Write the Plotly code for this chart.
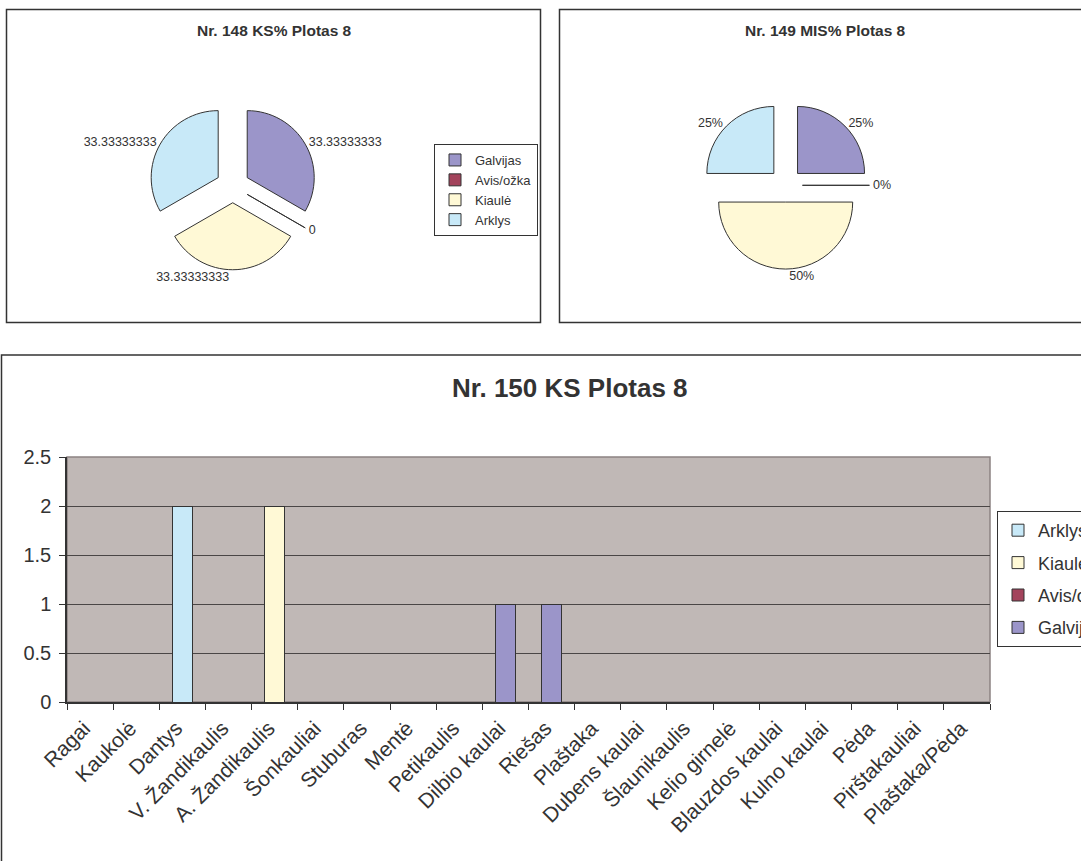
import plotly.graph_objects as go

W, H = 1081, 861

SPECIES = ['Galvijas', 'Avis/ožka', 'Kiaulė', 'Arklys']
SPECIES_COLORS = ['#9B95C9', '#A3435C', '#FFF9D6', '#C8E9F8']

KS_PCT = [33.33333333, 0, 33.33333333, 33.33333333]
MIS_COUNT = [1, 0, 2, 1]

BONES = ['Ragai', 'Kaukolė', 'Dantys', 'V. Žandikaulis', 'A. Žandikaulis', 'Šonkauliai',
         'Stuburas', 'Mentė', 'Petikaulis', 'Dilbio kaulai', 'Riešas', 'Plaštaka',
         'Dubens kaulai', 'Šlaunikaulis', 'Kelio girnelė', 'Blauzdos kaulai',
         'Kulno kaulai', 'Pėda', 'Pirštakauliai', 'Plaštaka/Pėda']

KS_GALVIJAS = [0, 0, 0, 0, 0, 0, 0, 0, 0, 1, 1, 0, 0, 0, 0, 0, 0, 0, 0, 0]
KS_AVIS = [0, 0, 0, 0, 0, 0, 0, 0, 0, 0, 0, 0, 0, 0, 0, 0, 0, 0, 0, 0]
KS_KIAULE = [0, 0, 0, 0, 2, 0, 0, 0, 0, 0, 0, 0, 0, 0, 0, 0, 0, 0, 0, 0]
KS_ARKLYS = [0, 0, 2, 0, 0, 0, 0, 0, 0, 0, 0, 0, 0, 0, 0, 0, 0, 0, 0, 0]

FONT = 'Liberation Sans, Arial, sans-serif'
TEXT = '#333333'
EDGE = '#333333'


def px(x):
    return x / W


def py(y):
    return 1 - y / H


def pie_domain(cx, cy, side):
    return dict(x=[px(cx - side / 2), px(cx + side / 2)],
                y=[py(cy + side / 2), py(cy - side / 2)])


fig = go.Figure()

# pies
fig.add_trace(go.Pie(
    labels=SPECIES, values=KS_PCT, sort=False, direction='clockwise',
    marker=dict(colors=SPECIES_COLORS, line=dict(color=EDGE, width=1)),
    pull=0.25, textinfo='value', textposition='outside',
    textfont=dict(size=12.5, color=TEXT, family=FONT),
    domain=pie_domain(232.7, 186, 167.5), legend='legend',
    hoverinfo='label+value',
))
fig.add_trace(go.Pie(
    labels=SPECIES, values=MIS_COUNT, sort=False, direction='clockwise',
    marker=dict(colors=SPECIES_COLORS, line=dict(color=EDGE, width=1)),
    pull=0.25, textinfo='percent', textposition='outside',
    textfont=dict(size=12.5, color=TEXT, family=FONT),
    domain=pie_domain(785.7, 185.3, 167.5), legend='legend2',
    hoverinfo='label+percent',
))

# stacked columns (empty cells left blank like in the sheet)
bar_series = [('Galvijas', KS_GALVIJAS, SPECIES_COLORS[0], 4),
              ('Avis/ožka', KS_AVIS, SPECIES_COLORS[1], 3),
              ('Kiaulė', KS_KIAULE, SPECIES_COLORS[2], 2),
              ('Arklys', KS_ARKLYS, SPECIES_COLORS[3], 1)]
for name, vals, color, rank in bar_series:
    fig.add_trace(go.Bar(
        x=BONES, y=[v if v else None for v in vals], name=name,
        legend='legend3', legendgroup=name, legendrank=rank,
        marker=dict(color=color, line=dict(color=EDGE, width=1)),
        hovertemplate='%{x}: %{y}<extra>' + name + '</extra>',
    ))

legend_common = dict(
    bgcolor='white', bordercolor=EDGE, borderwidth=1,
    xanchor='left', yanchor='top', itemclick=False, itemdoubleclick=False,
)

fig.update_layout(
    width=W, height=H,
    margin=dict(l=0, r=0, t=0, b=0, autoexpand=False),
    paper_bgcolor='white',
    plot_bgcolor='#C0B8B6',
    font=dict(family=FONT, color=TEXT),
    barmode='stack',
    bargap=0.57,
    legend=dict(x=px(434), y=py(144), font=dict(size=13, family=FONT, color=TEXT),
                **legend_common),
    legend2=dict(x=px(998), y=py(144), font=dict(size=13, family=FONT, color=TEXT),
                 **legend_common),
    legend3=dict(x=px(997), y=py(511), font=dict(size=18, family=FONT, color=TEXT),
                 traceorder='grouped', tracegroupgap=6, **legend_common),
    xaxis=dict(
        domain=[px(67), px(990)],
        type='category', tickangle=-45, tickson='boundaries',
        ticks='outside', ticklen=6, tickcolor=EDGE,
        ticklabelshift=-6, ticklabelstandoff=4,
        showline=True, linecolor=EDGE, linewidth=1.5,
        showgrid=False, tickfont=dict(size=21, family=FONT, color=TEXT),
    ),
    yaxis=dict(
        domain=[py(702), py(457)],
        range=[0, 2.5], dtick=0.5,
        ticks='outside', ticklen=6, tickcolor=EDGE, ticklabelstandoff=4,
        showline=True, linecolor=EDGE, linewidth=1.5,
        gridcolor='#4A4646', gridwidth=1, zeroline=False,
        tickfont=dict(size=20, family=FONT, color=TEXT),
    ),
    annotations=[
        dict(text='<b>Nr. 148 KS% Plotas 8</b>', x=px(274.6), y=py(30), xref='paper', yref='paper',
             xanchor='center', yanchor='middle', showarrow=False,
             font=dict(size=15.5, family=FONT, color=TEXT)),
        dict(text='<b>Nr. 149 MIS% Plotas 8</b>', x=px(825), y=py(30), xref='paper', yref='paper',
             xanchor='center', yanchor='middle', showarrow=False,
             font=dict(size=15.5, family=FONT, color=TEXT)),
        dict(text='<b>Nr. 150 KS Plotas 8</b>', x=px(570), y=py(388), xref='paper', yref='paper',
             xanchor='center', yanchor='middle', showarrow=False,
             font=dict(size=26, family=FONT, color=TEXT)),
    ],
    shapes=[
        # chart frames
        dict(type='rect', xref='paper', yref='paper', x0=px(6.5), x1=px(540.5), y0=py(322.5), y1=py(9.5),
             line=dict(color=EDGE, width=1.5), layer='below'),
        dict(type='rect', xref='paper', yref='paper', x0=px(559.5), x1=px(1090), y0=py(322.5), y1=py(9.5),
             line=dict(color=EDGE, width=1.5), layer='below'),
        dict(type='rect', xref='paper', yref='paper', x0=px(1.5), x1=px(1090), y0=py(870), y1=py(355),
             line=dict(color=EDGE, width=1.5), layer='below'),
        # plot area border
        dict(type='rect', xref='x domain', yref='y domain', x0=0, x1=1, y0=0, y1=1,
             line=dict(color='#8C8282', width=1.5), layer='below'),
    ],
)

fig.write_html('out.html', config={'displayModeBar': False},
               post_script="document.body.style.margin='0';document.body.style.overflow='hidden';")
